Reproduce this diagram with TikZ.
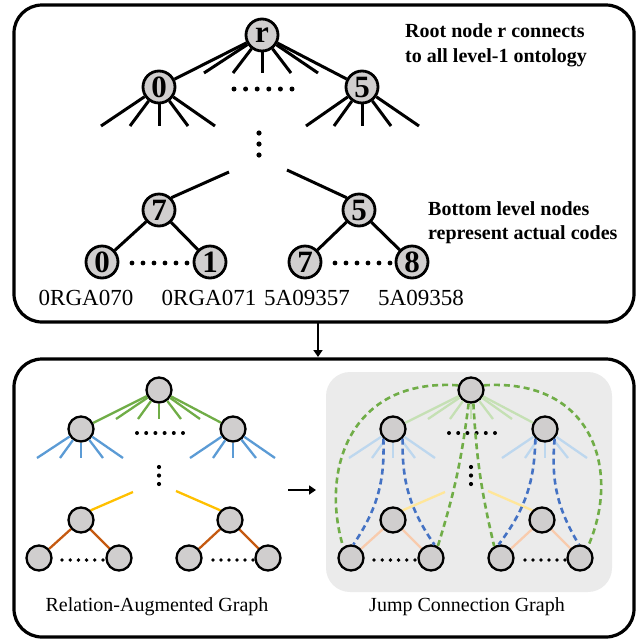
\documentclass[tikz,border=0pt]{standalone}
\usepackage{fontspec}
\setmainfont{Liberation Serif}
\usetikzlibrary{arrows.meta}
\definecolor{nodegray}{HTML}{D0CECE}
\definecolor{cgreen}{HTML}{70AD47}
\definecolor{cblue}{HTML}{5B9BD5}
\definecolor{cyellow}{HTML}{FFC000}
\definecolor{cbrown}{HTML}{C55A11}
\definecolor{fgreen}{HTML}{C5E0B4}
\definecolor{fblue}{HTML}{BDD7EE}
\definecolor{fyellow}{HTML}{FFE699}
\definecolor{fbrown}{HTML}{F8CBAD}
\definecolor{dblue}{HTML}{4472C4}
\definecolor{bggray}{HTML}{EBEBEB}
\tikzset{
  bignode/.style={circle,draw,line width=2.8pt,fill=nodegray,minimum size=32pt,inner sep=0pt,font=\fontsize{31}{31}\selectfont\bfseries},
  smallnode/.style={circle,draw,line width=2.3pt,fill=nodegray,minimum size=25pt,inner sep=0pt},
  tline/.style={line width=3pt},
  gline/.style={line width=2.3pt},
  jump/.style={line width=2.6pt,dash pattern=on 6pt off 4pt},
  panel/.style={draw,line width=3.2pt,rounded corners=28pt},
  dotmark/.style={fill=black},
}
\newcommand{\relgraph}[4]{%
  \node[smallnode] (root) at (159,390) {};
  \node[smallnode] (l1a) at (81,429) {};
  \node[smallnode] (l1b) at (233,429) {};
  \node[smallnode] (l2a) at (81,520) {};
  \node[smallnode] (l2b) at (230,520) {};
  \node[smallnode] (c1) at (39,558) {};
  \node[smallnode] (c2) at (119,558) {};
  \node[smallnode] (c3) at (189,558) {};
  \node[smallnode] (c4) at (268,558) {};
  \foreach \x [count=\i] in {116,138,159,181,200} {\coordinate (g\i) at (\x,419);}
  \foreach \x [count=\i] in {37,60,81,103,123} {\coordinate (ba\i) at (\x,458);}
  \foreach \x [count=\i] in {190,213,233,256,275} {\coordinate (bb\i) at (\x,458);}
  \coordinate (ya) at (133,492);
  \coordinate (yb) at (176,491);
  \draw[gline,#1] (root) -- (l1a) (root) -- (l1b);
  \foreach \i in {1,...,5} {\draw[gline,#1] (root) -- (g\i);}
  \foreach \i in {1,...,5} {\draw[gline,#2] (l1a) -- (ba\i); \draw[gline,#2] (l1b) -- (bb\i);}
  \draw[gline,#3] (ya) -- (l2a.north east);
  \draw[gline,#3] (yb) -- (l2b.north west);
  \draw[gline,#4] (l2a) -- (c1) (l2a) -- (c2) (l2b) -- (c3) (l2b) -- (c4);
  \foreach \x in {137,146.2,155.4,164.6,173.8,183} {\fill[dotmark] (\x,433) circle (2pt);}
  \foreach \y in {467,475.5,484} {\fill[dotmark] (159,\y) circle (2.1pt);}
  \foreach \x in {62,70.2,78.4,86.6,94.8,103} {\fill[dotmark] (\x,560) circle (1.9pt);}
  \foreach \x in {213,221,229,237,245,253} {\fill[dotmark] (\x,560) circle (1.9pt);}
}
\begin{document}
\begin{tikzpicture}[x=1pt,y=-1pt]
\useasboundingbox (0,0) rectangle (640,641);
% panels
\draw[panel] (14,5) rectangle (634,322);
\draw[panel] (14,359) rectangle (634,637);
\coordinate (arrtop) at (318,322);
\coordinate (arrbot) at (318,357);
\draw[line width=2.8pt,-{Triangle[length=7pt,width=9pt]}] (arrtop) -- (arrbot);

% ---------- top tree ----------
\node[bignode] (r) at (262,35) {r};
\node[bignode] (n0) at (159,87) {0};
\node[bignode] (n5) at (362,87) {5};
\node[bignode] (n7) at (159,210) {7};
\node[bignode] (m5) at (359,210) {5};
\node[bignode] (b0) at (102,262) {0};
\node[bignode] (b1) at (210,262) {1};
\node[bignode] (b7) at (305,262) {7};
\node[bignode] (b8) at (412,262) {8};
\foreach \x [count=\i] in {204,233,262,291,318} {\coordinate (rf\i) at (\x,73);}
\foreach \x [count=\i] in {101,130,159,188,215} {\coordinate (zf\i) at (\x,126);}
\foreach \x [count=\i] in {306,334,362,391,419} {\coordinate (ff\i) at (\x,126);}
\draw[tline] (r) -- (n0) (r) -- (n5);
\foreach \i in {1,...,5} {\draw[tline] (r) -- (rf\i);}
\foreach \i in {1,...,5} {\draw[tline] (n0) -- (zf\i); \draw[tline] (n5) -- (ff\i);}
\coordinate (la) at (229,172);
\coordinate (lb) at (287,170);
\draw[tline] (la) -- (n7.north east);
\draw[tline] (lb) -- (m5.north west);
\draw[tline] (n7) -- (b0) (n7) -- (b1) (m5) -- (b7) (m5) -- (b8);
\foreach \x in {234,245.6,257.2,268.8,280.4,292} {\fill[dotmark] (\x,89) circle (2.5pt);}
\foreach \y in {133,144,155} {\fill[dotmark] (259,\y) circle (2.6pt);}
\foreach \x in {132,143,154,165,176,187} {\fill[dotmark] (\x,263) circle (2.4pt);}
\foreach \x in {335,346,357,368,379,390} {\fill[dotmark] (\x,263) circle (2.4pt);}
\node[font=\fontsize{23}{23}\selectfont] (t1) at (86,298) {0RGA070};
\node[font=\fontsize{23}{23}\selectfont] (t2) at (209,298) {0RGA071};
\node[font=\fontsize{23}{23}\selectfont] (t3) at (307,298) {5A09357};
\node[font=\fontsize{23}{23}\selectfont] (t4) at (421,298) {5A09358};
\node[anchor=west,align=left,inner sep=0pt,font=\fontsize{20}{25}\selectfont\bfseries] (d1) at (405,45.5) {Root node r connects\\to all level-1 ontology};
\node[anchor=west,align=left,inner sep=0pt,font=\fontsize{20}{24}\selectfont\bfseries] (d2) at (428,223) {Bottom level nodes\\represent actual codes};

% ---------- bottom left graph ----------
\begin{scope}[name prefix=L-]
\relgraph{cgreen}{cblue}{cyellow}{cbrown}
\end{scope}
\node[font=\fontsize{20}{20}\selectfont] (lab1) at (157,607) {Relation-Augmented Graph};
\coordinate (ma) at (288,490);
\coordinate (mb) at (316,490);
\draw[line width=2.8pt,-{Triangle[length=7pt,width=9pt]}] (ma) -- (mb);

% ---------- bottom right graph ----------
\fill[bggray,rounded corners=24pt] (326,372) rectangle (612,592);
\begin{scope}[shift={(312,0)},name prefix=R-]
\relgraph{fgreen}{fblue}{fyellow}{fbrown}
\end{scope}
\draw[jump,cgreen] (R-root.160) .. controls (350,378) and (320,470) .. (R-c1.125);
\draw[jump,cgreen] (R-root.20) .. controls (592,378) and (622,470) .. (R-c4.55);
\draw[jump,cgreen] (R-root.260) to[bend left=5] (R-c2.60);
\draw[jump,cgreen] (R-root.280) to[bend right=5] (R-c3.120);
\draw[jump,dblue] (R-l1a.225) to[bend left=18] (R-c1.80);
\draw[jump,dblue] (R-l1a.315) to[bend right=18] (R-c2.75);
\draw[jump,dblue] (R-l1b.225) to[bend left=18] (R-c3.100);
\draw[jump,dblue] (R-l1b.315) to[bend right=18] (R-c4.95);
\node[font=\fontsize{20}{20}\selectfont] (lab2) at (467,607) {Jump Connection Graph};
\end{tikzpicture}
\end{document}
